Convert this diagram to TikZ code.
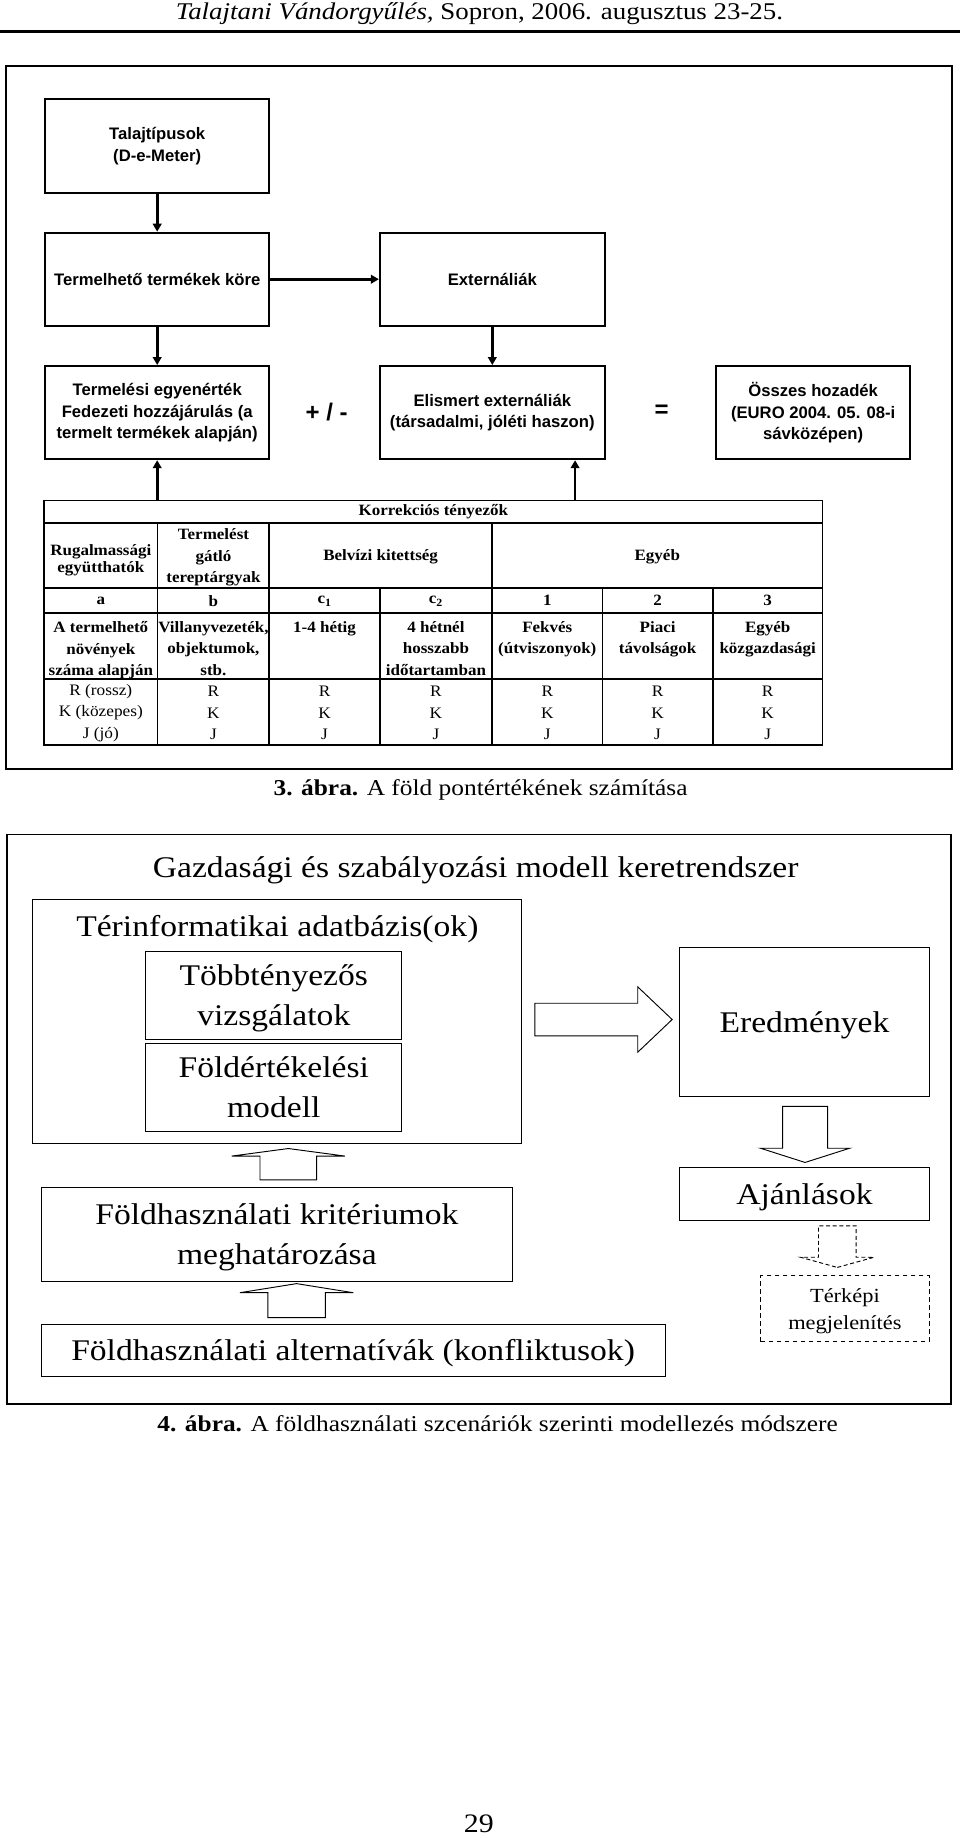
\documentclass[tikz,border=0pt]{standalone}
\usepackage{fontspec}
\setmainfont{Liberation Serif}
\newfontfamily\lapfont[FakeStretch=1.12]{Liberation Serif}
\newfontfamily\abrafont{Liberation Sans}
\newfontfamily\tablafont[FakeStretch=1.08]{Liberation Serif}
\usetikzlibrary{arrows.meta,shapes.arrows,positioning}
\newcommand{\egys}{0.8791pt}

\tikzset{
  doboz/.style={draw, line width=1.4pt, align=center, inner sep=2pt,
    font=\abrafont\bfseries\fontsize{12.5}{16.3}\selectfont},
  nyil/.style={line width=2pt, -{Triangle[width=6.5pt,length=6pt]}},
  tabla/.style={line width=1.2pt},
  cella/.style={align=center, inner sep=0pt,
    font=\tablafont\bfseries\fontsize{11.8}{16.2}\selectfont},
  ertek/.style={align=center, inner sep=0pt,
    font=\tablafont\fontsize{12}{16}\selectfont},
  keret/.style={line width=1.3pt},
  mezo/.style={draw, line width=0.7pt, align=center, inner sep=0pt, text depth=0pt,
    font=\lapfont\fontsize{22.5}{30}\selectfont},
  ureges/.style={single arrow, draw, line width=0.7pt, fill=white,
    inner xsep=0pt, minimum width=0pt, anchor=tip},
  szoveg/.style={anchor=base, inner sep=0pt,
    font=\lapfont\fontsize{17}{20}\selectfont}
}

\begin{document}
\begin{tikzpicture}[x=0.8791pt, y=-0.8791pt]
    \useasboundingbox (0,0) rectangle (819,1568);

    \node [szoveg, font=\lapfont\fontsize{18}{20}\selectfont] (fejlec) at (409,17)
        {\textit{Talajtani Vándorgyűlés,} Sopron, 2006. augusztus 23-25.};
    \draw [line width=2pt] (0,27) -- (819,27);

    % 3. abra
    \draw [keret] (5.1,56.3) rectangle (812,656);

    \node [doboz, minimum width=191.4*\egys, minimum height=79.7*\egys] (talaj) at (134.1,124.5)
        {Talajtípusok\\(D-e-Meter)};
    \node [doboz, minimum width=191.4*\egys, minimum height=79.5*\egys] (termelheto) at (134.1,238.2)
        {Termelhető termékek köre};
    \node [doboz, minimum width=191.4*\egys, minimum height=79.6*\egys] (termelesi) at (134.1,352)
        {Termelési egyenérték\\Fedezeti hozzájárulás (a\\termelt termékek alapján)};
    \node [doboz, minimum width=192*\egys, minimum height=79.5*\egys] (extern) at (420,238.2)
        {Externáliák};
    \node [doboz, minimum width=192*\egys, minimum height=79.6*\egys] (elismert) at (420,352)
        {Elismert externáliák\\(társadalmi, jóléti haszon)};
    \node [doboz, minimum width=165.5*\egys, minimum height=79.6*\egys] (osszes) at (693.7,352)
        {Összes hozadék\\(EURO 2004. 05. 08-i\\sávközépen)};

    \node [font=\abrafont\bfseries\fontsize{18}{18}\selectfont] (plusz) at (278.7,351.2) {+ / -};
    \node [font=\abrafont\bfseries\fontsize{18}{18}\selectfont] (egyenlo) at (564.5,351) {=};

    \draw [nyil] (talaj) -- (termelheto);
    \draw [nyil] (termelheto) -- (extern);
    \draw [nyil] (termelheto) -- (termelesi);
    \draw [nyil] (extern) -- (elismert);

    \coordinate (t1) at (134.1,427);
    \coordinate (t2) at (490.6,427);
    \draw [nyil] (t1) -- (termelesi);
    \draw [nyil] (t2) -- (elismert.south -| t2);

    \draw [tabla] (37.6,427) rectangle (701.8,635.6);
    \draw [tabla] (37.6,446) -- (701.8,446);
    \draw [tabla] (37.6,501.7) -- (701.8,501.7);
    \draw [tabla] (37.6,523) -- (701.8,523);
    \draw [tabla] (37.6,579.3) -- (701.8,579.3);
    \draw [tabla] (134.5,446) -- (134.5,635.6);
    \draw [tabla] (229.7,446) -- (229.7,635.6);
    \draw [tabla] (419.7,446) -- (419.7,635.6);
    \draw [tabla] (324,501.7) -- (324,635.6);
    \draw [tabla] (514,501.7) -- (514,635.6);
    \draw [tabla] (608,501.7) -- (608,635.6);

    \node [cella] (korr) at (369.7,436.5) {Korrekciós tényezők};
    \node [cella, font=\tablafont\bfseries\fontsize{11.8}{12.5}\selectfont] (rug) at (86,478) {Rugalmassági\\együtthatók};
    \node [cella] (gatlo) at (182.1,475.6) {Termelést\\gátló\\tereptárgyak};
    \node [cella] (belviz) at (324.7,475) {Belvízi kitettség};
    \node [cella] (egyeb) at (560.75,475) {Egyéb};

    \node [cella] (ja) at (86,512.4) {a};
    \node [cella] (jb) at (182.1,512.4) {b};
    \node [cella] (jc1) at (276.9,513) {c\textsubscript{1}};
    \node [cella] (jc2) at (371.9,513) {c\textsubscript{2}};
    \node [cella] (j1) at (466.9,512.4) {1};
    \node [cella] (j2) at (561,512.4) {2};
    \node [cella] (j3) at (654.9,512.4) {3};

    \node [cella, anchor=north] (la) at (86,529.8) {A termelhető\\növények\\száma alapján};
    \node [cella, anchor=north] (lb) at (182.1,529.8) {Villanyvezeték,\\objektumok,\\stb.};
    \node [cella, anchor=north] (lc1) at (276.9,529.8) {1-4 hétig};
    \node [cella, anchor=north] (lc2) at (371.9,529.8) {4 hétnél\\hosszabb\\időtartamban};
    \node [cella, anchor=north] (l1) at (466.9,529.8) {Fekvés\\(útviszonyok)};
    \node [cella, anchor=north] (l2) at (561,529.8) {Piaci\\távolságok};
    \node [cella, anchor=north] (l3) at (654.9,529.8) {Egyéb\\közgazdasági};

    \node [ertek] (ra) at (86,608.2) {R (rossz)\\K (közepes)\\J (jó)};
    \node [ertek] (rb) at (182.1,608.2) {R\\K\\J};
    \node [ertek] (rc1) at (276.9,608.2) {R\\K\\J};
    \node [ertek] (rc2) at (371.9,608.2) {R\\K\\J};
    \node [ertek] (r1) at (466.9,608.2) {R\\K\\J};
    \node [ertek] (r2) at (561,608.2) {R\\K\\J};
    \node [ertek] (r3) at (654.9,608.2) {R\\K\\J};

    \node [szoveg] (abra3) at (410,679) {\textbf{3. ábra.} A föld pontértékének számítása};

    % 4. abra
    \draw [keret] (5.7,712) rectangle (811,1198);

    \node [szoveg, font=\lapfont\fontsize{22.5}{27}\selectfont] (cim) at (405.8,749)
        {Gazdasági és szabályozási modell keretrendszer};

    \node [mezo, minimum width=416.5*\egys, minimum height=208.2*\egys] (terinfo) at (236.25,871.3) {};
    \node [szoveg, font=\lapfont\fontsize{22.5}{27}\selectfont] (terinfocim) at (236.6,799)
        {Térinformatikai adatbázis(ok)};
    \node [mezo, minimum width=218.5*\egys, minimum height=74.8*\egys] (tobb) at (233.55,849.3)
        {Többtényezős\\vizsgálatok};
    \node [mezo, minimum width=218.5*\egys, minimum height=74.8*\egys] (foldert) at (233.55,927.5)
        {Földértékelési\\modell};
    \node [mezo, minimum width=212.6*\egys, minimum height=126.5*\egys] (ered) at (686.3,871.75)
        {Eredmények};
    \node [mezo, minimum width=212.6*\egys, minimum height=44.6*\egys] (ajan) at (686.3,1018.5)
        {Ajánlások};
    \node [mezo, dash pattern=on 3.5pt off 2.5pt, minimum width=143.6*\egys, minimum height=56.3*\egys,
        font=\lapfont\fontsize{15}{20}\selectfont] (terkep) at (720.8,1116.5)
        {Térképi\\megjelenítés};
    \node [mezo, minimum width=402.4*\egys, minimum height=79.7*\egys] (krit) at (236.2,1053)
        {Földhasználati kritériumok\\meghatározása};
    \node [mezo, minimum width=532.3*\egys, minimum height=44.2*\egys] (alt) at (301.2,1151.9)
        {Földhasználati alternatívák (konfliktusok)};

    \node [ureges, minimum height=102.9pt, inner ysep=11.87pt, single arrow head extend=12.26pt,
        single arrow tip angle=87] (ny1) at ([shift={(-5.6,-2)}]ered.west) {};
    \node [ureges, rotate=-90, minimum height=42pt, inner ysep=16.5pt, single arrow head extend=16.6pt,
        single arrow tip angle=144.6] (ny2) at ([shift={(0.5,-3.7)}]ajan.north) {};
    \node [ureges, rotate=-90, dash pattern=on 3pt off 2pt, minimum height=31.2pt, inner ysep=13.76pt,
        single arrow head extend=13.36pt, single arrow tip angle=149] (ny3) at ([shift={(-6.5,-6.3)}]terkep.north) {};
    \node [ureges, rotate=90, minimum height=23.56pt, inner ysep=20.9pt, single arrow head extend=21.2pt,
        single arrow tip angle=164.8] (ny4) at ([shift={(9.75,3.6)}]terinfo.south) {};
    \node [ureges, rotate=90, minimum height=25.5pt, inner ysep=21.2pt, single arrow head extend=21pt,
        single arrow tip angle=161.8] (ny5) at ([shift={(16.8,1.4)}]krit.south) {};

    \node [szoveg] (abra4) at (424.5,1221)
        {\textbf{4. ábra.} A földhasználati szcenáriók szerinti modellezés módszere};

    \node [szoveg, font=\lapfont\fontsize{20}{24}\selectfont] (oldal) at (408.5,1563) {29};
\end{tikzpicture}
\end{document}
